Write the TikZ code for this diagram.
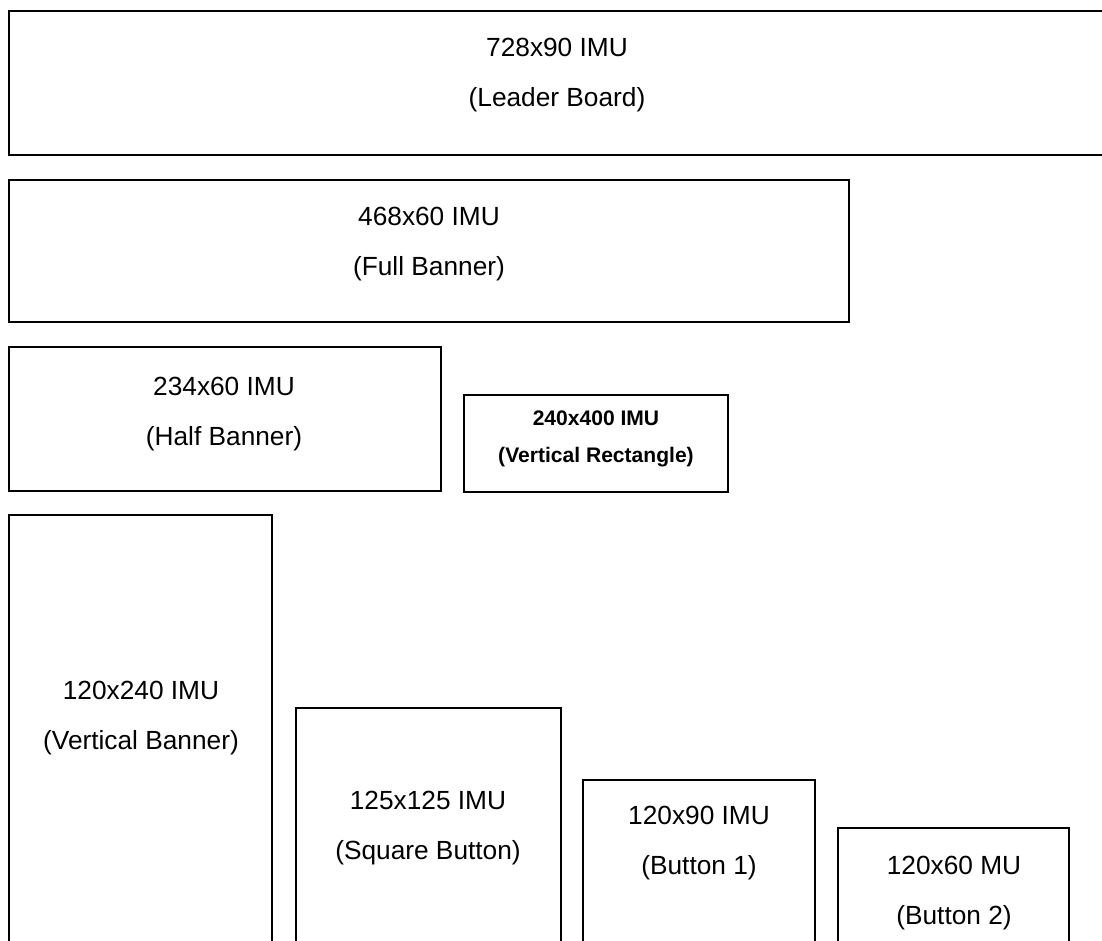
\documentclass[tikz,border=0pt]{standalone}
\usepackage{fontspec}
\setmainfont{Liberation Sans}
\begin{document}
\begin{tikzpicture}[x=0.75pt,y=-0.75pt,
  adbox/.style={draw=black,line width=1.5pt},
  lbl/.style={align=center,inner sep=0pt,font=\fontsize{19.7}{38}\selectfont},
  blbl/.style={align=center,inner sep=0pt,font=\bfseries\fontsize{15.8}{28}\selectfont}]
\useasboundingbox (0,0) rectangle (1102,940);
\begin{scope}
\clip (0,0) rectangle (1102,940);
\draw[adbox] (9,11) rectangle (1110,155);
\draw[adbox] (9,180) rectangle (849,322);
\draw[adbox] (9,347) rectangle (441,491);
\draw[adbox] (464,395) rectangle (728,492);
\draw[adbox] (9,515) rectangle (272,960);
\draw[adbox] (296,708) rectangle (561,960);
\draw[adbox] (583,780) rectangle (815,960);
\draw[adbox] (838,828) rectangle (1069,960);
\end{scope}
\node[lbl] (leader) at (557,75) {728x90 IMU\\(Leader Board)};
\node[lbl] (full) at (429,244) {468x60 IMU\\(Full Banner)};
\node[lbl] (half) at (224,414) {234x60 IMU\\(Half Banner)};
\node[blbl] (vrect) at (596,439) {240x400 IMU\\(Vertical Rectangle)};
\node[lbl] (vban) at (141,718) {120x240 IMU\\(Vertical Banner)};
\node[lbl] (square) at (428,828) {125x125 IMU\\(Square Button)};
\node[lbl] (btn1) at (699,843) {120x90 IMU\\(Button 1)};
\node[lbl] (btn2) at (954,893) {120x60 MU\\(Button 2)};
\end{tikzpicture}
\end{document}
